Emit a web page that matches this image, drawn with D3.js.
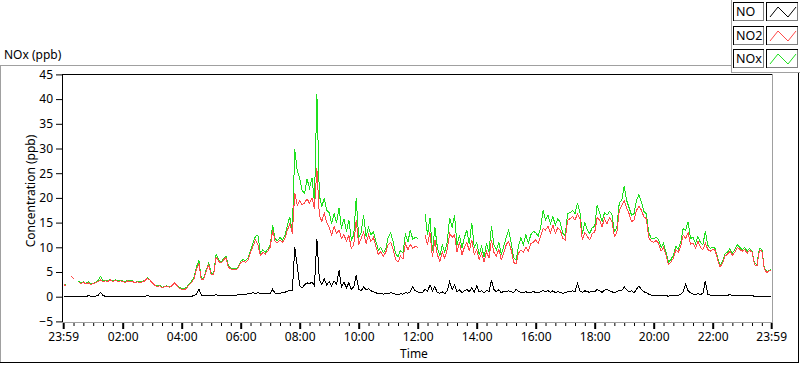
<!DOCTYPE html>
<html><head><meta charset="utf-8">
<script src="https://cdn.jsdelivr.net/npm/d3@7"></script>
<style>
body{margin:0;background:#fff;}
svg{display:block;font-family:"Noto Sans",sans-serif;}
</style>
</head><body>
<svg id="c" width="800" height="365"></svg>
<script>
// ---------- data ----------
const seriesNames = ["NO", "NO2", "NOx"];
const seriesColors = ["#000000", "#ff4848", "#1ee01e"];
const yTicks = [-5, 0, 5, 10, 15, 20, 25, 30, 35, 40, 45];
const xTickMinutes = [-1, 120, 240, 360, 480, 600, 720, 840, 960, 1080, 1200, 1320, 1439];
const xTickLabels = ["23:59", "02:00", "04:00", "06:00", "08:00", "10:00", "12:00", "14:00", "16:00", "18:00", "20:00", "22:00", "23:59"];
const sampleStepMinutes = 5;   // samples every 5 minutes from 00:00, last sample at 23:59
const lastSampleMinute = 1439;

const NO2 = [
 2.4, 2.3, null, 4.2, 3.6, null, 3.0, 2.7, 2.9, 2.6, 2.8, 2.5,
 2.6, 2.8, 3.1, 3.4, 3.0, 3.2, 3.1, 3.4, 3.0, 3.3, 3.1, 3.2,
 3.1, 2.9, 3.2, 3.0, 3.1, 2.8, 3.0, 2.9, 3.0, 3.2, 3.7, 3.4,
 2.8, 2.3, 2.0, 2.2, 1.8, 2.0, 2.1, 1.9, 2.2, 2.8, 2.3, 1.7,
 1.5, 1.4, 1.7, 2.4, 2.9, 3.6, 5.5, 6.7, 3.4, 3.6, 5.2, 6.5,
 4.5, 4.4, 8.0, 7.2, 6.8, 7.4, 7.9, 6.0, 5.6, 5.5, 5.4, 5.8,
 6.9, 7.2, 7.0, 7.4, 9.0, 10.2, 11.5, 10.5, 8.3, 9.0, 8.6, 9.2,
 10.0, 13.5, 11.2, 10.9, 11.5, 11.0, 11.8, 13.5, 14.8, 12.8, 21.0, 18.5,
 19.5, 18.6, 19.0, 19.8, 18.9, 20.0, 17.8, 26.0, 16.5, 15.2, 17.0, 15.0,
 14.0, 12.5, 14.2, 12.8, 13.5, 11.8, 12.6, 11.2, 12.4, 9.8, 10.5, 15.5,
 10.5, 11.8, 13.0, 10.8, 12.5, 11.2, 12.0, 10.2, 8.5, 9.2, 8.2, 9.0,
 10.5, 11.0, 9.6, 7.5, 7.0, 8.2, 7.6, 10.8, 9.5, 10.6, 9.8, 10.2,
 10.0, null, null, 12.5, 10.5, 13.0, 8.0, 11.5, 8.5, 7.2, 9.0, 7.8,
 9.5, 12.8, 12.0, 12.5, 9.0, 11.0, 8.5, 10.0, 11.0, 9.2, 11.5, 8.5,
 9.5, 7.5, 8.8, 7.0, 9.2, 7.8, 11.5, 9.0, 8.2, 9.6, 7.5, 8.8,
 10.5, 11.2, 9.5, 7.0, 6.6, 8.8, 9.5, 9.0, 10.0, 9.3, 10.8, 11.0,
 11.5, 10.8, 12.2, 13.8, 13.5, 14.2, 13.0, 14.5, 12.8, 14.0, 13.5, 11.8,
 11.5, 15.5, 15.8, 16.2, 15.5, 16.8, 15.8, 11.5, 13.0, 12.2, 11.5, 12.8,
 13.0, 16.0, 15.5, 14.2, 15.8, 14.8, 16.0, 15.2, 12.2, 13.0, 17.5, 18.5,
 19.5, 18.0, 16.8, 15.2, 15.5, 17.5, 18.3, 17.5, 16.2, 15.8, 12.0, 11.2,
 11.0, 11.4, 10.8, 9.2, 10.0, 8.5, 6.5, 7.0, 7.8, 9.5, 9.0, 10.2,
 12.5, 11.8, 13.0, 10.6, 10.8, 9.8, 11.2, 10.0, 9.5, 10.8, 9.6, 9.2,
 9.6, 9.4, 7.5, 6.0, 6.8, 8.2, 8.6, 9.2, 8.4, 9.0, 10.0, 9.6,
 9.2, 9.6, 8.8, 9.4, 9.0, 6.5, 6.2, 9.4, 9.3, 5.6, 4.9, 5.2, 5.4
];

const NOx = [
 2.6, 2.4, null, 4.2, 3.7, null, 3.1, 2.9, 3.0, 2.7, 3.0, 2.6,
 2.7, 2.9, 3.3, 4.1, 3.2, 3.3, 3.2, 3.5, 3.1, 3.4, 3.2, 3.3,
 3.2, 3.0, 3.3, 3.2, 3.2, 2.9, 3.1, 3.0, 3.1, 3.3, 3.8, 3.5,
 2.9, 2.4, 2.2, 2.3, 1.9, 2.1, 2.2, 2.0, 2.3, 2.9, 2.4, 1.9,
 1.6, 1.6, 1.9, 2.6, 3.1, 3.9, 6.0, 7.4, 3.6, 3.8, 5.5, 6.8,
 4.8, 4.7, 8.5, 7.6, 7.0, 7.7, 8.2, 6.3, 5.8, 5.7, 5.6, 6.0,
 7.2, 7.5, 7.3, 7.8, 9.4, 10.9, 12.2, 12.5, 8.8, 9.5, 9.0, 9.6,
 10.4, 14.5, 11.7, 11.3, 12.0, 11.5, 12.4, 14.5, 16.2, 13.2, 29.8, 25.5,
 24.0, 21.5, 21.0, 23.8, 22.0, 24.0, 19.2, 41.0, 20.5, 18.2, 20.0, 17.5,
 17.0, 14.8, 16.8, 15.0, 18.0, 13.8, 15.8, 13.2, 15.5, 11.5, 12.5, 20.0,
 12.0, 13.0, 16.5, 12.2, 14.0, 12.5, 13.2, 11.2, 9.4, 10.0, 8.9, 9.6,
 12.0, 12.9, 11.2, 8.8, 8.0, 9.4, 8.8, 12.8, 11.0, 13.5, 11.6, 12.0,
 11.8, null, null, 16.8, 12.5, 16.0, 9.2, 14.0, 10.0, 8.2, 10.5, 9.0,
 11.0, 16.0, 14.0, 16.5, 10.5, 12.5, 9.8, 12.0, 13.5, 10.6, 15.0, 10.0,
 11.0, 8.5, 10.2, 8.0, 10.8, 9.0, 14.3, 10.5, 9.5, 11.0, 8.6, 10.2,
 12.0, 13.4, 11.0, 8.0, 7.4, 10.2, 12.0, 10.5, 12.5, 10.8, 12.5, 13.2,
 13.0, 12.2, 14.0, 17.5, 15.5, 16.5, 14.8, 16.2, 14.5, 15.8, 15.0, 12.8,
 12.4, 16.8, 17.0, 17.5, 16.8, 19.0, 17.0, 12.8, 15.0, 13.5, 12.8, 14.0,
 14.2, 18.5, 17.0, 15.2, 17.0, 16.5, 17.2, 16.8, 13.2, 14.0, 19.0, 19.5,
 22.4, 19.5, 18.0, 16.5, 16.8, 19.5, 20.7, 19.2, 17.3, 16.8, 13.0, 11.8,
 11.8, 12.0, 11.5, 10.0, 10.8, 9.0, 7.0, 7.5, 8.4, 10.2, 9.6, 11.0,
 13.8, 13.5, 15.2, 11.8, 12.0, 10.8, 12.2, 11.0, 10.5, 13.2, 10.4, 9.8,
 10.0, 9.8, 7.9, 6.3, 7.2, 8.7, 9.0, 9.7, 8.8, 9.5, 10.5, 10.0,
 9.5, 10.0, 9.2, 9.8, 9.3, 6.8, 6.5, 9.8, 9.6, 5.8, 5.1, 5.3, 5.5
];

const NO = [
 0.0, 0.0, 0.0, 0.0, 0.0, 0.0, 0.0, 0.0, 0.0, 0.0, 0.2, 0.1,
 0.1, 0.1, 0.3, 0.9, 0.2, 0.1, 0.1, 0.1, 0.1, 0.1, 0.1, 0.1,
 0.1, 0.1, 0.1, 0.1, 0.1, 0.1, 0.1, 0.1, 0.1, 0.1, 0.2, 0.1,
 0.1, 0.1, 0.1, 0.1, 0.1, 0.1, 0.1, 0.1, 0.1, 0.1, 0.1, 0.1,
 0.1, 0.1, 0.1, 0.1, 0.1, 0.2, 0.5, 1.5, 0.3, 0.2, 0.2, 0.2,
 0.2, 0.3, 0.4, 0.2, 0.3, 0.2, 0.3, 0.2, 0.2, 0.3, 0.3, 0.4,
 0.4, 0.5, 0.5, 0.6, 0.7, 0.8, 0.7, 0.8, 0.7, 0.6, 0.7, 0.7,
 0.6, 1.5, 0.7, 0.6, 0.7, 0.8, 0.9, 1.1, 1.3, 1.2, 10.0, 6.2,
 2.2, 1.8, 2.4, 2.8, 2.6, 3.0, 2.2, 11.7, 3.5, 2.5, 3.6, 2.4,
 3.0, 2.2, 3.2, 2.5, 5.3, 2.0, 3.0, 1.8, 2.8, 1.5, 2.0, 4.3,
 1.5, 1.2, 2.0, 1.4, 1.6, 1.2, 1.0, 0.8, 0.6, 0.7, 0.5, 0.6,
 0.6, 0.8, 0.7, 0.5, 0.4, 0.6, 0.5, 0.8, 0.7, 1.0, 2.0, 1.2,
 1.0, 0.8, 0.9, 1.5, 1.0, 2.4, 1.2, 2.0, 0.8, 0.7, 1.0, 0.6,
 1.2, 3.0, 1.5, 2.4, 1.0, 1.4, 0.8, 1.2, 1.5, 1.0, 1.8, 0.9,
 2.2, 1.0, 1.2, 0.8, 1.3, 1.0, 3.3, 1.5, 1.0, 1.4, 0.8, 1.1,
 1.0, 1.2, 1.0, 0.8, 1.5, 1.0, 0.9, 0.8, 1.0, 0.8, 0.9, 1.0,
 0.9, 0.8, 1.0, 1.3, 1.0, 1.2, 0.9, 1.2, 0.8, 1.0, 0.9, 0.7,
 0.8, 1.0, 1.0, 1.2, 1.0, 2.7, 1.2, 0.9, 1.2, 1.0, 0.9, 1.1,
 1.0, 1.5, 1.2, 0.9, 1.3, 1.5, 1.2, 1.0, 0.8, 1.0, 1.3, 1.2,
 2.0, 1.4, 1.0, 1.2, 0.8, 1.5, 2.2, 1.4, 1.0, 0.8, 0.5, 0.3,
 0.3, 0.2, 0.2, 0.2, 0.2, 0.2, 0.1, 0.2, 0.2, 0.3, 0.3, 0.5,
 1.0, 2.6, 1.2, 0.8, 0.5, 0.4, 0.6, 0.5, 0.6, 3.2, 0.5, 0.3,
 0.3, 0.3, 0.3, 0.3, 0.3, 0.3, 0.3, 0.4, 0.3, 0.3, 0.3, 0.2,
 0.2, 0.2, 0.2, 0.2, 0.2, 0.1, 0.1, 0.1, 0.0, 0.0, 0.0, 0.0, 0.0
];

const times = d3.range(NO2.length - 1).map(i => i * sampleStepMinutes).concat([lastSampleMinute]);
const seriesValues = [NO, NO2, NOx];

// ---------- layout ----------
const svg = d3.select("#c");
const plot = {left: 62, top: 74, right: 772, bottom: 322};
const x = d3.scaleLinear().domain([-1, 1439]).range([63.2, 771.2]);
const y = d3.scaleLinear().domain([-5, 45]).range([321.4, 74.4]);
const fontSize = 12;

// outer panel frame
const frame = svg.append("g").attr("shape-rendering", "crispEdges");
frame.append("line").attr("x1", 0).attr("x2", 731).attr("y1", 65.5).attr("y2", 65.5).attr("stroke", "#a0a0a0");
frame.append("line").attr("x1", 0.5).attr("x2", 0.5).attr("y1", 65).attr("y2", 363).attr("stroke", "#a0a0a0");
frame.append("line").attr("x1", 0).attr("x2", 799).attr("y1", 362.5).attr("y2", 362.5).attr("stroke", "#000");
frame.append("line").attr("x1", 798.5).attr("x2", 798.5).attr("y1", 72).attr("y2", 363).attr("stroke", "#000");

// title
svg.append("text").attr("x", 4).attr("y", 59).attr("font-size", fontSize).attr("fill", "#000").text("NOx (ppb)");

// plot area
frame.append("rect").attr("x", plot.left).attr("y", plot.top).attr("width", plot.right - plot.left).attr("height", plot.bottom - plot.top).attr("fill", "#fff");

svg.append("clipPath").attr("id", "clip").append("rect")
  .attr("x", plot.left + 1).attr("y", plot.top + 1)
  .attr("width", plot.right - plot.left - 1).attr("height", plot.bottom - plot.top - 1);

const line = d3.line()
  .defined(d => d[1] !== null)
  .x(d => x(d[0]))
  .y(d => y(d[1]));

const drawOrder = [2, 1, 0];
const lines = svg.append("g").attr("clip-path", "url(#clip)").attr("shape-rendering", "crispEdges");
drawOrder.forEach(k => {
  const pts = times.map((t, i) => [t, seriesValues[k][i]]);
  lines.append("path").attr("d", line(pts))
    .attr("fill", "none").attr("stroke", seriesColors[k]).attr("stroke-width", 1);
});

// plot borders: top/left dark, bottom/right gray
frame.append("line").attr("x1", plot.left).attr("x2", plot.right).attr("y1", plot.top + 0.5).attr("y2", plot.top + 0.5).attr("stroke", "#000");
frame.append("line").attr("x1", plot.left + 0.5).attr("x2", plot.left + 0.5).attr("y1", plot.top).attr("y2", plot.bottom + 1).attr("stroke", "#000");
const frame2 = svg.append("g").attr("shape-rendering", "crispEdges");
frame2.append("line").attr("x1", plot.left).attr("x2", plot.right + 1).attr("y1", plot.bottom + 0.5).attr("y2", plot.bottom + 0.5).attr("stroke", "#a0a0a0");
frame2.append("line").attr("x1", plot.right + 0.5).attr("x2", plot.right + 0.5).attr("y1", plot.top).attr("y2", plot.bottom + 1).attr("stroke", "#a0a0a0");

// y axis
const yAxis = svg.append("g").attr("transform", `translate(${plot.left},0)`)
  .call(d3.axisLeft(y).tickValues(yTicks).tickSize(6).tickPadding(3));
yAxis.select(".domain").remove();
yAxis.selectAll("text").attr("font-size", fontSize).attr("font-family", "Noto Sans").attr("fill", "#000");

// x axis minor ticks
const minorTicks = d3.range(20, 1439, 20).filter(m => m % 120 !== 0);
const xMinor = svg.append("g").attr("transform", `translate(0,${plot.bottom + 1})`)
  .call(d3.axisBottom(x).tickValues(minorTicks).tickSize(3).tickFormat(""));
xMinor.select(".domain").remove();
const xAxis = svg.append("g").attr("transform", `translate(0,${plot.bottom + 1})`)
  .call(d3.axisBottom(x).tickValues(xTickMinutes).tickSize(6).tickPadding(3).tickFormat((d, i) => xTickLabels[i]));
xAxis.select(".domain").remove();
xAxis.selectAll("text").attr("font-size", fontSize).attr("font-family", "Noto Sans").attr("fill", "#000");
xAxis.selectAll(".tick line").attr("stroke-width", 2);

// axis titles
svg.append("text").attr("transform", "translate(35,191) rotate(-90)").attr("text-anchor", "middle")
  .attr("font-size", fontSize).attr("fill", "#000").text("Concentration (ppb)");
svg.append("text").attr("x", 414).attr("y", 358).attr("text-anchor", "middle")
  .attr("font-size", fontSize).attr("fill", "#000").text("Time");

// legend
const leg = svg.append("g").attr("shape-rendering", "crispEdges");
leg.append("line").attr("x1", 731.5).attr("x2", 731.5).attr("y1", 0).attr("y2", 73).attr("stroke", "#a0a0a0");
leg.append("line").attr("x1", 731).attr("x2", 800).attr("y1", 72.5).attr("y2", 72.5).attr("stroke", "#a0a0a0");
const rowTops = [2, 26, 49];
seriesNames.forEach((name, i) => {
  const t = rowTops[i];
  const g = leg.append("g");
  g.append("rect").attr("x", 733.5).attr("y", t + 0.5).attr("width", 30).attr("height", 18).attr("fill", "#fff").attr("stroke", "#808080");
  g.append("path").attr("d", `M733.5,${t + 18.5}V${t + 0.5}H763.5`).attr("fill", "none").attr("stroke", "#000");
  g.append("text").attr("x", 736).attr("y", t + 14).attr("font-size", 12.5).attr("fill", "#000").text(name);
  g.append("rect").attr("x", 766.5).attr("y", t + 0.5).attr("width", 31).attr("height", 18).attr("fill", "#fff").attr("stroke", "#808080");
  g.append("path").attr("d", `M766.5,${t + 18.5}V${t + 0.5}H797.5`).attr("fill", "none").attr("stroke", "#000");
  svg.append("path").attr("d", `M770,${t + 15}L778,${t + 5}L788,${t + 15}L796,${t + 5}`)
    .attr("fill", "none").attr("stroke", seriesColors[i]).attr("stroke-width", 1);
});
</script>
</body></html>
